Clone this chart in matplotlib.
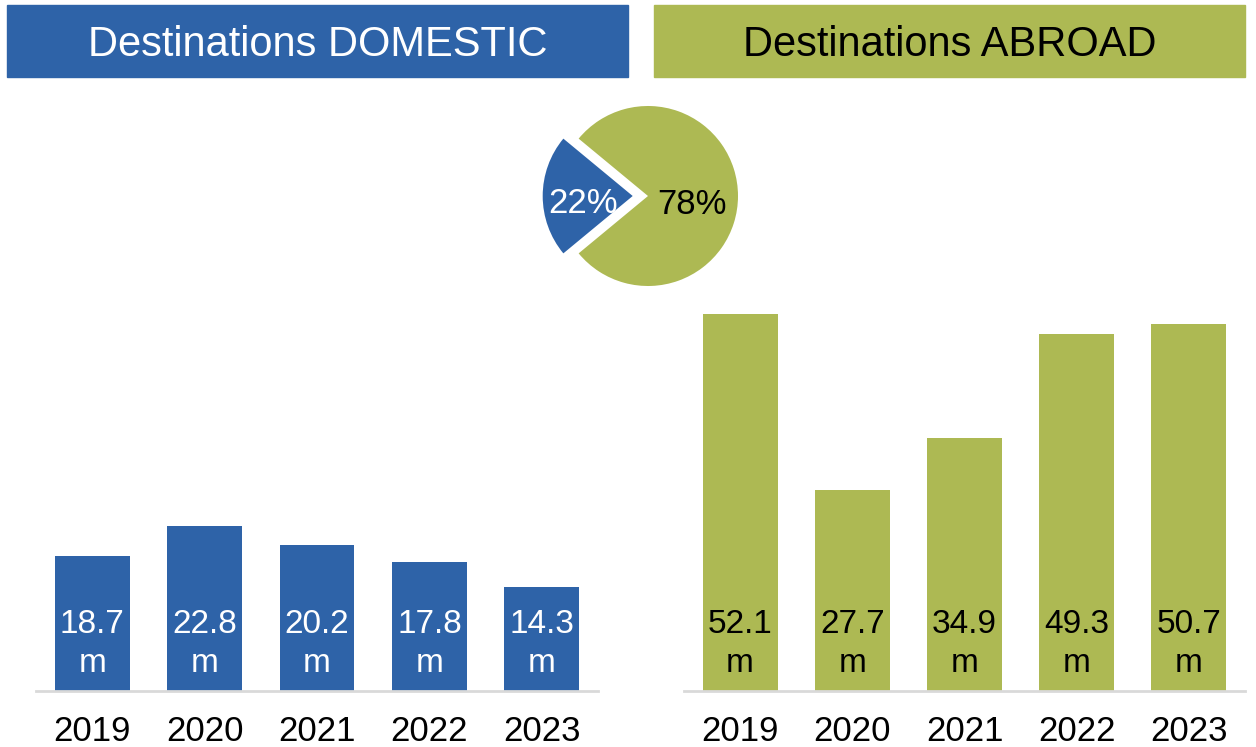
import matplotlib.pyplot as plt
from matplotlib.patches import Rectangle

plt.rcParams['font.family'] = ['Liberation Sans', 'DejaVu Sans']

years = ['2019', '2020', '2021', '2022', '2023']
domestic = [18.7, 22.8, 20.2, 17.8, 14.3]
abroad = [52.1, 27.7, 34.9, 49.3, 50.7]
share_labels = ['DOMESTIC', 'ABROAD']
share = [22, 78]

BLUE = '#2E63A8'
GREEN = '#ADB953'
W, H = 1256, 747

fig = plt.figure(figsize=(W / 100, H / 100), dpi=100)


def px_axes(x0, y0, x1, y1):
    # pixel box measured from top-left -> figure fraction
    return fig.add_axes([x0 / W, 1 - y1 / H, (x1 - x0) / W, (y1 - y0) / H])


# header boxes
for (x0, x1, col, txt, tcol) in [(7, 628, BLUE, 'Destinations DOMESTIC', 'white'),
                                 (654, 1245, GREEN, 'Destinations ABROAD', 'black')]:
    fig.patches.append(Rectangle((x0 / W, 1 - 77 / H), (x1 - x0) / W, 72 / H,
                                 transform=fig.transFigure, color=col, zorder=0))
    fig.text((x0 + x1) / 2 / W, 1 - 56 / H, txt, color=tcol, fontsize=30,
             ha='center', va='baseline')

# bar charts
ymax = 55
for (x0, x1, vals, col, tcol) in [(36, 598, domestic, BLUE, 'white'),
                                  (684, 1245, abroad, GREEN, 'black')]:
    ax = px_axes(x0, 691 - ymax * 7.24, x1, 691)
    ax.bar(range(len(vals)), vals, width=0.667, color=col)
    for i, v in enumerate(vals):
        ax.text(i, 6.5, f'{v}\nm', ha='center', va='center', color=tcol,
                fontsize=24, linespacing=1.32)
    ax.set_xlim(-0.5, 4.5)
    ax.set_ylim(0, ymax)
    ax.set_xticks(range(len(years)))
    ax.set_xticklabels(years, fontsize=25)
    ax.tick_params(axis='x', length=0, pad=17)
    ax.set_yticks([])
    for s in ['top', 'left', 'right']:
        ax.spines[s].set_visible(False)
    ax.spines['bottom'].set_color('#D9D9D9')
    ax.spines['bottom'].set_linewidth(2)
    ax.patch.set_alpha(0)

# pie
r = 90
axp = px_axes(648 - 120, 196 - 120, 648 + 120, 196 + 120)
wedges, _, autotexts = axp.pie(share, colors=[BLUE, GREEN], startangle=140.4,
                               explode=[0.17, 0], autopct='%.0f%%',
                               pctdistance=0.55, textprops={'fontsize': 25})
autotexts[0].set_color('white')
autotexts[0].set_position((-0.72, -0.08))
autotexts[1].set_color('black')
autotexts[1].set_position((0.49, -0.09))
axp.set_xlim(-120 / r, 120 / r)
axp.set_ylim(-120 / r, 120 / r)
axp.set_aspect('equal')
axp.axis('off')

fig.savefig('out.png', dpi=100)
